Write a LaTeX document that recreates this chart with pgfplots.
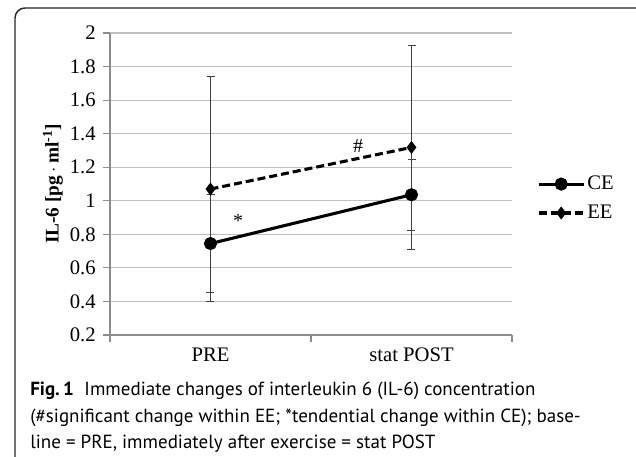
\documentclass[border=0pt]{standalone}
\usepackage{fontspec}
\setmainfont{Liberation Serif}
\newfontfamily\capfont{PT Sans}
\usepackage{pgfplots}
\pgfplotsset{compat=1.18}
\definecolor{gridc}{HTML}{BFBFBF}
\definecolor{axc}{HTML}{8C8C8C}
\definecolor{errc}{HTML}{404040}
\begin{document}
\begin{tikzpicture}[x=0.75pt,y=0.75pt]
\useasboundingbox (0,0) rectangle (636,457);
\draw[line width=1.1pt, color=black!85, rounded corners=7.5pt] (15,-20) -- (15,449) -- (646,449) -- (646,-20);
\begin{axis}[
  at={(82.5pt,91.5pt)}, anchor=south west, scale only axis,
  width=301.5pt, height=226.5pt,
  xmin=0.5, xmax=2.5, ymin=0.2, ymax=2,
  axis x line*=bottom, axis y line*=left,
  axis line style={axc, line width=0.8pt, -},
  ymajorgrids, grid style={gridc, line width=0.8pt},
  tick style={axc, line width=0.8pt},
  tick align=outside, major tick length=5.25pt,
  ytick={0.2,0.4,0.6,0.8,1,1.2,1.4,1.6,1.8,2},
  yticklabels={0.2,0.4,0.6,0.8,1,1.2,1.4,1.6,1.8,2},
  xtick={0.5,1.5,2.5}, xticklabels={},
  extra x ticks={1,2}, extra x tick labels={PRE,stat POST},
  extra x tick style={major tick length=0pt},
  tick label style={font=\fontsize{15.5}{17}\selectfont},
  yticklabel style={xshift=-2pt},
  xticklabel style={yshift=-6pt},
  ylabel={\textbf{IL-6 [pg\,$\cdot$\,ml\textsuperscript{-1}]}},
  ylabel style={font=\fontsize{14.5}{16}\selectfont, at={(axis description cs:-0.142,0.5)}, anchor=center},
  legend style={at={(1.062,0.452)}, anchor=west, draw=none, fill=none, inner sep=0pt,
    row sep=7pt, font=\fontsize{15.5}{17}\selectfont, nodes={inner sep=1.5pt}},
  legend cell align=left,
  legend image code/.code={\draw[mark repeat=2,mark phase=2] plot coordinates {(0pt,0pt) (16.875pt,0pt) (33.75pt,0pt)};},
  clip=false
]
\addplot[black, line width=2.3pt, mark=*, mark size=3.75pt,
  error bars/.cd, y dir=both, y explicit,
  error bar style={errc, line width=0.6pt, solid},
  error mark options={rotate=90, errc, mark size=3pt, line width=0.6pt, solid}]
  coordinates {(1,0.745) +- (0,0.292) (2,1.036) +- (0,0.21)};
\addlegendentry{CE}
\addplot[black, line width=2.3pt, dash pattern=on 6pt off 3pt, mark=diamond*, mark size=3pt, mark options={solid},
  error bars/.cd, y dir=both, y explicit,
  error bar style={errc, line width=0.6pt, solid},
  error mark options={rotate=90, errc, mark size=3pt, line width=0.6pt, solid}]
  coordinates {(1,1.07) +- (0,0.67) (2,1.318) +- (0,0.61)};
\addlegendentry{EE}
\node[font=\fontsize{15}{16}\selectfont] at (axis cs:1.137,0.88) {*};
\node[font=\fontsize{15}{16}\selectfont] at (axis cs:1.734,1.328) {\#};
\end{axis}
\node[anchor=north west, inner sep=0pt, align=left, font=\capfont\fontsize{14.25}{19.8}\selectfont] at (30,75)
{\textbf{Fig.\,1}\hspace{8pt}Immediate changes of interleukin 6 (IL-6) concentration\\
(\#significant change within EE; *tendential change within CE); base-\\
line = PRE, immediately after exercise = stat POST};
\end{tikzpicture}
\end{document}
